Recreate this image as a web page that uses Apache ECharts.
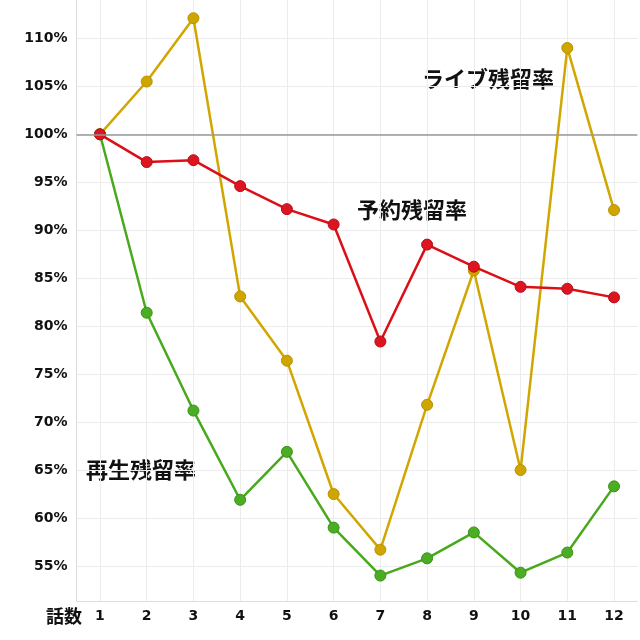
<!DOCTYPE html>
<html>
<head>
<meta charset="utf-8">
<script src="https://cdn.jsdelivr.net/npm/echarts@6/dist/echarts.min.js"></script>
<style>
  html, body { margin: 0; padding: 0; background: #fff; }
  #main { width: 640px; height: 640px; }
</style>
</head>
<body>
<div id="main"></div>
<script>
var episodes = [1, 2, 3, 4, 5, 6, 7, 8, 9, 10, 11, 12];
var yTicks = [55, 60, 65, 70, 75, 80, 85, 90, 95, 100, 105, 110];
var live = [100, 105.5, 112.1, 83.1, 76.4, 62.5, 56.7, 71.8, 85.8, 65.0, 109.0, 92.1];
var reserve = [100, 97.1, 97.3, 94.6, 92.2, 90.6, 78.4, 88.5, 86.2, 84.1, 83.9, 83.0];
var play = [100, 81.4, 71.2, 61.9, 66.9, 59.0, 54.0, 55.8, 58.5, 54.3, 56.4, 63.3];

var fontFamily = '"DejaVu Sans", Verdana, sans-serif';
var jpFont = '"Noto Sans CJK JP", sans-serif';

function pairs(arr) {
    return arr.map(function (v, i) { return [episodes[i], v]; });
}

var myChart = echarts.init(document.getElementById('main'));

var option = {
    animation: false,
    backgroundColor: '#fff',
    grid: { left: 76.6, right: 2.6, top: 0, bottom: 39, containLabel: false },
    xAxis: {
        type: 'value',
        min: 0.5,
        max: 12.5,
        axisLine: { show: true, lineStyle: { color: '#dcdcdc', width: 1 } },
        axisTick: { show: false, customValues: episodes },
        axisLabel: {
            customValues: episodes,
            color: '#111',
            fontWeight: 'bold',
            fontSize: 14,
            fontFamily: fontFamily,
            margin: 8
        },
        splitLine: { show: true, lineStyle: { color: '#ececec', width: 1 } }
    },
    yAxis: {
        type: 'value',
        min: 51.35,
        max: 114,
        axisLine: { show: true, lineStyle: { color: '#dcdcdc', width: 1 } },
        axisTick: { show: false, customValues: yTicks },
        axisLabel: {
            customValues: yTicks,
            formatter: '{value}%',
            color: '#111',
            fontWeight: 'bold',
            fontSize: 14,
            fontFamily: fontFamily,
            margin: 9
        },
        splitLine: { show: true, lineStyle: { color: '#ececec', width: 1 } }
    },
    graphic: [
        { type: 'text', left: 422, top: 68, style: { text: 'ライブ残留率', font: 'bold 22px ' + jpFont, fill: '#111' } },
        { type: 'text', left: 357, top: 199, style: { text: '予約残留率', font: 'bold 22px ' + jpFont, fill: '#111' } },
        { type: 'text', left: 86, top: 459, style: { text: '再生残留率', font: 'bold 22px ' + jpFont, fill: '#111' } },
        { type: 'text', left: 46, top: 607, style: { text: '話数', font: 'bold 18px ' + jpFont, fill: '#111' } }
    ],
    series: [
        {
            name: 'ライブ残留率',
            type: 'line',
            data: pairs(live),
            symbol: 'circle',
            symbolSize: 11,
            lineStyle: { color: '#d2a600', width: 2.5 },
            itemStyle: { color: '#cfa600', borderColor: '#b99200', borderWidth: 1 },
            markLine: {
                silent: true,
                symbol: 'none',
                label: { show: false },
                lineStyle: { color: '#999999', width: 1.5, type: 'solid' },
                data: [{ yAxis: 100 }]
            },
            z: 2
        },
        {
            name: '予約残留率',
            type: 'line',
            data: pairs(reserve),
            symbol: 'circle',
            symbolSize: 11,
            lineStyle: { color: '#dc0f17', width: 2.5 },
            itemStyle: { color: '#dc1520', borderColor: '#b80e16', borderWidth: 1 },
            z: 4
        },
        {
            name: '再生残留率',
            type: 'line',
            data: pairs(play),
            symbol: 'circle',
            symbolSize: 11,
            lineStyle: { color: '#48a91d', width: 2.5 },
            itemStyle: { color: '#4aad22', borderColor: '#3a901a', borderWidth: 1 },
            z: 3
        }
    ]
};

myChart.setOption(option);
</script>
</body>
</html>
